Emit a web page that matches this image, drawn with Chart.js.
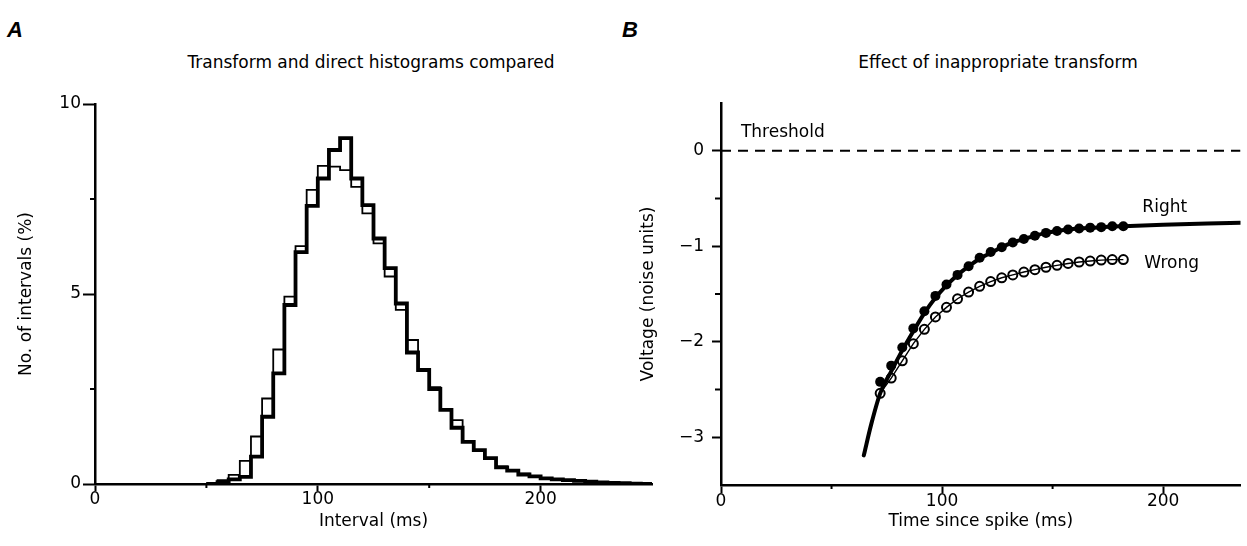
<!DOCTYPE html>
<html lang="en">
<head>
    <meta charset="UTF-8">
    <title>Transform and direct histograms</title>
    <script src="https://cdn.jsdelivr.net/npm/chart.js"></script>
    <style>
        body { margin: 0; background: #fff; width: 1247px; height: 546px; position: relative; overflow: hidden; font-family: "DejaVu Sans", sans-serif; color: #000; }
        canvas { position: absolute; top: 0; }
        #chartA { left: 0; }
        #chartB { left: 620px; }
        .panel { position: absolute; font: italic bold 22px "Liberation Sans", Arial, sans-serif; line-height: 22px; }
        .title { position: absolute; font-size: 17px; line-height: 20px; transform: translateX(-50%); white-space: nowrap; }
    </style>
</head>
<body>
    <div class="panel" style="left:7px;top:19px">A</div>
    <div class="panel" style="left:622px;top:19px">B</div>
    <div class="title" style="left:371px;top:52px">Transform and direct histograms compared</div>
    <div class="title" style="left:998px;top:52px">Effect of inappropriate transform</div>

    <canvas id="chartA" width="670" height="546"></canvas>
    <canvas id="chartB" width="627" height="546"></canvas>

    <script>
        // ---- Panel A: interval histograms (5 ms bins, left edges) ----
        const binStarts = [50, 55, 60, 65, 70, 75, 80, 85, 90, 95, 100, 105, 110, 115, 120, 125, 130, 135, 140, 145,
                           150, 155, 160, 165, 170, 175, 180, 185, 190, 195, 200, 205, 210, 215, 220, 225, 230, 235, 240, 245];
        const binEnd = 250;
        // thin line: transform histogram (%)
        const transformPct = [0.03, 0.1, 0.24, 0.61, 1.25, 2.25, 3.54, 4.93, 6.26, 7.74, 8.37, 8.35, 8.26, 7.82, 7.12, 6.33, 5.46, 4.58, 3.79, 3.0,
                              2.55, 1.97, 1.68, 1.11, 0.89, 0.68, 0.46, 0.35, 0.27, 0.21, 0.15, 0.12, 0.1, 0.08, 0.06, 0.04, 0.03, 0.02, 0.01, 0.01];
        // thick line: direct histogram (%)
        const directPct = [0.0, 0.05, 0.12, 0.19, 0.72, 1.77, 2.91, 4.71, 6.1, 7.32, 8.04, 8.79, 9.1, 8.04, 7.34, 6.46, 5.68, 4.75, 3.46, 3.0,
                           2.5, 1.95, 1.48, 1.11, 0.89, 0.68, 0.44, 0.35, 0.25, 0.2, 0.15, 0.12, 0.1, 0.08, 0.06, 0.04, 0.03, 0.02, 0.01, 0.0];
        const xTicksA = [0, 100, 200];
        const xMinorA = [50, 150];
        const yTicksA = [0, 5, 10];
        const yMinorA = [2.5, 7.5];

        // ---- Panel B: mean voltage trajectories ----
        const pointTimes = [72, 77, 82, 87, 92, 97, 102, 107, 112, 117, 122, 127, 132, 137, 142, 147, 152, 157, 162, 167, 172, 177, 182];
        const rightV = [-2.42, -2.25, -2.06, -1.86, -1.68, -1.52, -1.40, -1.30, -1.21, -1.12, -1.06, -1.01, -0.96, -0.925, -0.89, -0.86,
                        -0.84, -0.825, -0.815, -0.805, -0.80, -0.79, -0.79];
        const wrongV = [-2.54, -2.38, -2.20, -2.02, -1.87, -1.74, -1.64, -1.55, -1.48, -1.42, -1.37, -1.33, -1.30, -1.27, -1.245, -1.22,
                        -1.20, -1.18, -1.165, -1.155, -1.145, -1.14, -1.14];
        // thick smooth curve
        const fitTimes = [64.6, 68, 72, 77, 82, 87, 92, 97, 102, 107, 112, 117, 122, 127, 132, 137, 142, 147, 152, 162, 172, 182, 200, 220, 235];
        const fitV = [-3.19, -2.86, -2.54, -2.31, -2.09, -1.89, -1.70, -1.54, -1.41, -1.30, -1.21, -1.13, -1.07, -1.01, -0.96, -0.925,
                      -0.89, -0.86, -0.84, -0.815, -0.80, -0.79, -0.775, -0.763, -0.755];
        const thresholdTimes = [0, 235];
        const thresholdV = [0, 0];
        const xTicksB = [0, 100, 200];
        const xMinorB = [50, 150];
        const yTicksB = [-3, -2, -1, 0];
        const yMinorB = [-2.5, -1.5, -0.5];

        Chart.defaults.font.family = '"DejaVu Sans", sans-serif';
        Chart.defaults.font.size = 17;
        Chart.defaults.color = '#000';

        const minus = v => String(v).replace('-', '\u2212');
        const pairs = (xs, ys) => xs.map((x, i) => ({ x: x, y: ys[i] }));
        // histogram outline: each value holds until the next bin edge
        const steps = vals => pairs(binStarts, vals).concat([{ x: binEnd, y: 0 }]);

        // short minor ticks and free text labels
        const extras = {
            id: 'extras',
            afterDraw(chart, args, opts) {
                const { ctx, chartArea: a, scales: { x, y } } = chart;
                ctx.save();
                ctx.strokeStyle = '#000';
                ctx.lineWidth = 2;
                (opts.xMinor || []).forEach(v => {
                    const px = x.getPixelForValue(v);
                    ctx.beginPath(); ctx.moveTo(px, a.bottom); ctx.lineTo(px, a.bottom + opts.xMinorLen); ctx.stroke();
                });
                (opts.yMinor || []).forEach(v => {
                    const py = y.getPixelForValue(v);
                    ctx.beginPath(); ctx.moveTo(a.left - opts.yMinorLen, py); ctx.lineTo(a.left, py); ctx.stroke();
                });
                ctx.fillStyle = '#000';
                ctx.font = '17px "DejaVu Sans"';
                ctx.textBaseline = 'middle';
                (opts.notes || []).forEach(n => ctx.fillText(n.text, x.getPixelForValue(n.x), y.getPixelForValue(n.y)));
                ctx.restore();
            }
        };

        function axis(min, max, tickVals, size, title, titlePad, tickLen, labelPad) {
            return {
                type: 'linear', min: min, max: max,
                afterBuildTicks: s => { s.ticks = tickVals.map(v => ({ value: v })); },
                afterFit: s => { if (s.isHorizontal()) s.height = size; else s.width = size; },
                ticks: { callback: v => minus(v), padding: labelPad, font: { size: 17, lineHeight: 1 }, maxRotation: 0, autoSkip: false },
                grid: { drawOnChartArea: false, tickLength: tickLen, tickWidth: 2, tickColor: '#000' },
                border: { display: true, color: '#000', width: 2.5 },
                title: { display: true, text: title, font: { size: 17 }, padding: titlePad }
            };
        }

        new Chart(document.getElementById('chartA'), {
            type: 'line',
            data: {
                datasets: [
                    { label: 'Direct', data: steps(directPct), stepped: true, borderColor: '#000', borderWidth: 3.8,
                      borderJoinStyle: 'miter', pointRadius: 0, fill: false },
                    { label: 'Transform', data: steps(transformPct), stepped: true, borderColor: '#000', borderWidth: 1.8,
                      borderJoinStyle: 'miter', pointRadius: 0, fill: false }
                ]
            },
            options: {
                responsive: false,
                animation: false,
                layout: { padding: { top: 104, right: 18, left: 0, bottom: 0 } },
                plugins: {
                    legend: { display: false },
                    tooltip: { enabled: false },
                    extras: { xMinor: xMinorA, yMinor: yMinorA, xMinorLen: 4, yMinorLen: 5 }
                },
                scales: {
                    x: axis(0, 250, xTicksA, 62, 'Interval (ms)', { top: 0, bottom: 14 }, 7, 0),
                    y: axis(0, 10, yTicksA, 95, 'No. of intervals (%)', { top: 16, bottom: 0 }, 12, 2)
                }
            },
            plugins: [extras]
        });

        new Chart(document.getElementById('chartB'), {
            type: 'line',
            data: {
                datasets: [
                    { label: 'Right', data: pairs(pointTimes, rightV), showLine: false, pointRadius: 5,
                      pointBackgroundColor: '#000', pointBorderColor: '#000', pointBorderWidth: 0 },
                    { label: 'Wrong', data: pairs(pointTimes, wrongV), borderColor: '#000', borderWidth: 1.4,
                      pointRadius: 4.5, pointBackgroundColor: 'rgba(0,0,0,0)', pointBorderColor: '#000', pointBorderWidth: 2 },
                    { label: 'Fit', data: pairs(fitTimes, fitV), borderColor: '#000', borderWidth: 4,
                      cubicInterpolationMode: 'monotone', borderCapStyle: 'round', pointRadius: 0 },
                    { label: 'Threshold', data: pairs(thresholdTimes, thresholdV), borderColor: '#000', borderWidth: 2,
                      borderDash: [10, 7], pointRadius: 0 }
                ]
            },
            options: {
                responsive: false,
                animation: false,
                layout: { padding: { top: 103, right: 0, left: 0, bottom: 0 } },
                plugins: {
                    legend: { display: false },
                    tooltip: { enabled: false },
                    extras: {
                        xMinor: xMinorB, yMinor: yMinorB, xMinorLen: 4, yMinorLen: 6,
                        notes: [
                            { text: 'Threshold', x: 9, y: 0.19 },
                            { text: 'Right', x: 190.6, y: -0.6 },
                            { text: 'Wrong', x: 191.5, y: -1.18 }
                        ]
                    }
                },
                scales: {
                    x: axis(0, 235, xTicksB, 61, 'Time since spike (ms)', { top: 0, bottom: 14 }, 8, 0),
                    y: axis(-3.5, 0.5, yTicksB, 101, 'Voltage (noise units)', { top: 18, bottom: 0 }, 9, 8)
                }
            },
            plugins: [extras]
        });
    </script>
</body>
</html>
